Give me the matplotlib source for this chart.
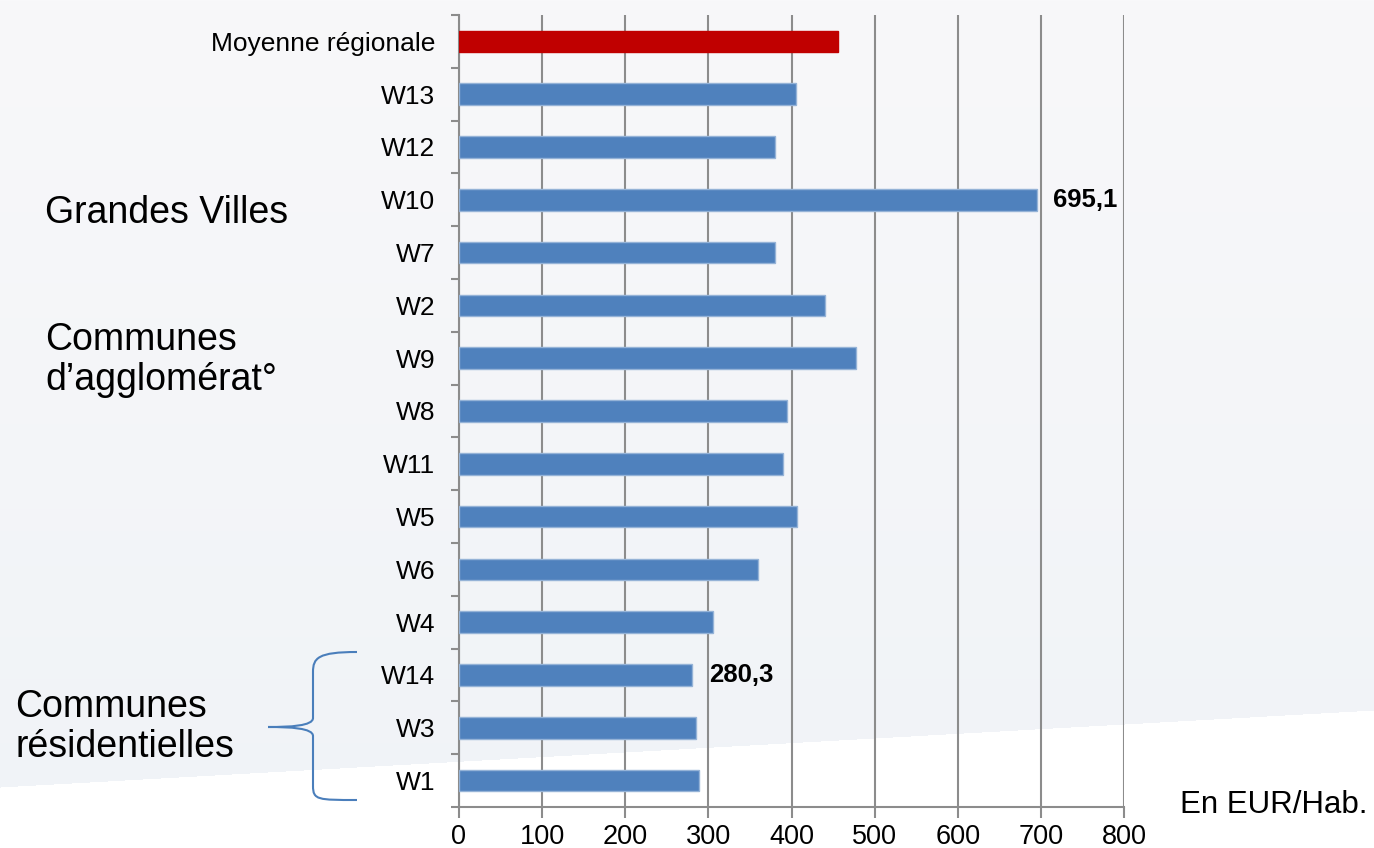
import matplotlib
matplotlib.use("Agg")
import matplotlib.pyplot as plt
from matplotlib.path import Path
from matplotlib.patches import PathPatch
import numpy as np

plt.rcParams['font.family'] = ['Liberation Sans', 'DejaVu Sans']

categories = ["Moyenne régionale", "W13", "W12", "W10", "W7", "W2", "W9", "W8",
              "W11", "W5", "W6", "W4", "W14", "W3", "W1"]
values = [456, 406, 380, 695.1, 380, 440, 478, 394, 390, 407, 360, 305, 280.3, 285, 289]
labelled = {"W10": "695,1", "W14": "280,3"}
x_ticks = [0, 100, 200, 300, 400, 500, 600, 700, 800]

W, H = 1374, 848
fig = plt.figure(figsize=(W / 100, H / 100), dpi=100)

# background: soft grey-blue gradient with a white sweep at the bottom
yy, xx = np.mgrid[0:H, 0:W]
top = np.array([248, 248, 250]) / 255
low = np.array([240, 243, 247]) / 255
t = (yy / H)[..., None]
bg = top * (1 - t) + low * t
boundary = 787 - (787 - 710) * xx / W
bg[yy > boundary] = 1.0
bgax = fig.add_axes([0, 0, 1, 1])
bgax.imshow(bg, aspect="auto", extent=[0, 1, 0, 1])
bgax.axis("off")

ax = fig.add_axes([459 / W, 1 - 807 / H, (1124 - 459) / W, (807 - 15) / H])
ax.patch.set_alpha(0)

y = np.arange(len(categories))
colors = ["#C00000"] + ["#4F81BD"] * (len(categories) - 1)
edges = ["#C00000"] + ["#95B3D7"] * (len(categories) - 1)
ax.barh(y, values, height=0.41, color=colors, edgecolor=edges, linewidth=1, zorder=3)

for cat, txt in labelled.items():
    i = categories.index(cat)
    ax.annotate(txt, (values[i], i), xytext=(12, 0), textcoords="offset points",
                va="center", ha="left", fontsize=18.5, fontweight="bold", zorder=4)

ax.set_xlim(0, 800)
ax.set_ylim(len(categories) - 0.5, -0.5)
ax.set_xticks(x_ticks)
ax.set_xticklabels([str(v) for v in x_ticks], fontsize=19.5)
ax.set_yticks(y)
ax.set_yticklabels(categories, fontsize=19)
ax.set_yticks(np.arange(len(categories) + 1) - 0.5, minor=True)
ax.tick_params(axis="y", which="major", length=0, pad=17)
ax.tick_params(axis="y", which="minor", length=6, width=1.5, color="#8c8c8c")
ax.tick_params(axis="x", length=8, width=1.5, color="#8c8c8c", pad=4)
ax.grid(axis="x", color="#8c8c8c", linewidth=1.5, zorder=1)
for s in ["top", "right"]:
    ax.spines[s].set_visible(False)
for s in ["left", "bottom"]:
    ax.spines[s].set_color("#8c8c8c")
    ax.spines[s].set_linewidth(1.5)

# group labels
fig.text(45 / W, 1 - 213 / H, "Grandes Villes", fontsize=27, va="center", ha="left")
fig.text(45 / W, 1 - 360 / H, "Communes\nd’agglomérat°", fontsize=27, va="center",
         ha="left", linespacing=1.15)
fig.text(15 / W, 1 - 727 / H, "Communes\nrésidentielles", fontsize=27, va="center",
         ha="left", linespacing=1.15)
fig.text(1180 / W, 1 - 805 / H, "En EUR/Hab.", fontsize=22.5, va="center", ha="left")

# curly brace
def fp(px, py):
    return (px / W, 1 - py / H)

verts = [fp(357, 652), fp(318, 652), fp(313, 658), fp(313, 672),
         fp(313, 712), fp(313, 712), fp(313, 718),
         fp(313, 726), fp(290, 727), fp(268, 727),
         fp(290, 727), fp(313, 728), fp(313, 736),
         fp(313, 780), fp(313, 780), fp(313, 786),
         fp(313, 800), fp(318, 800), fp(357, 800)]
codes = [Path.MOVETO, Path.CURVE4, Path.CURVE4, Path.CURVE4,
         Path.LINETO, Path.LINETO, Path.LINETO,
         Path.CURVE4, Path.CURVE4, Path.CURVE4,
         Path.CURVE4, Path.CURVE4, Path.CURVE4,
         Path.LINETO, Path.LINETO, Path.LINETO,
         Path.CURVE4, Path.CURVE4, Path.CURVE4]
brace = PathPatch(Path(verts, codes), transform=fig.transFigure, fill=False,
                  edgecolor="#4A7EBB", linewidth=1.5)
fig.patches.append(brace)

fig.savefig("out.png", dpi=100)
